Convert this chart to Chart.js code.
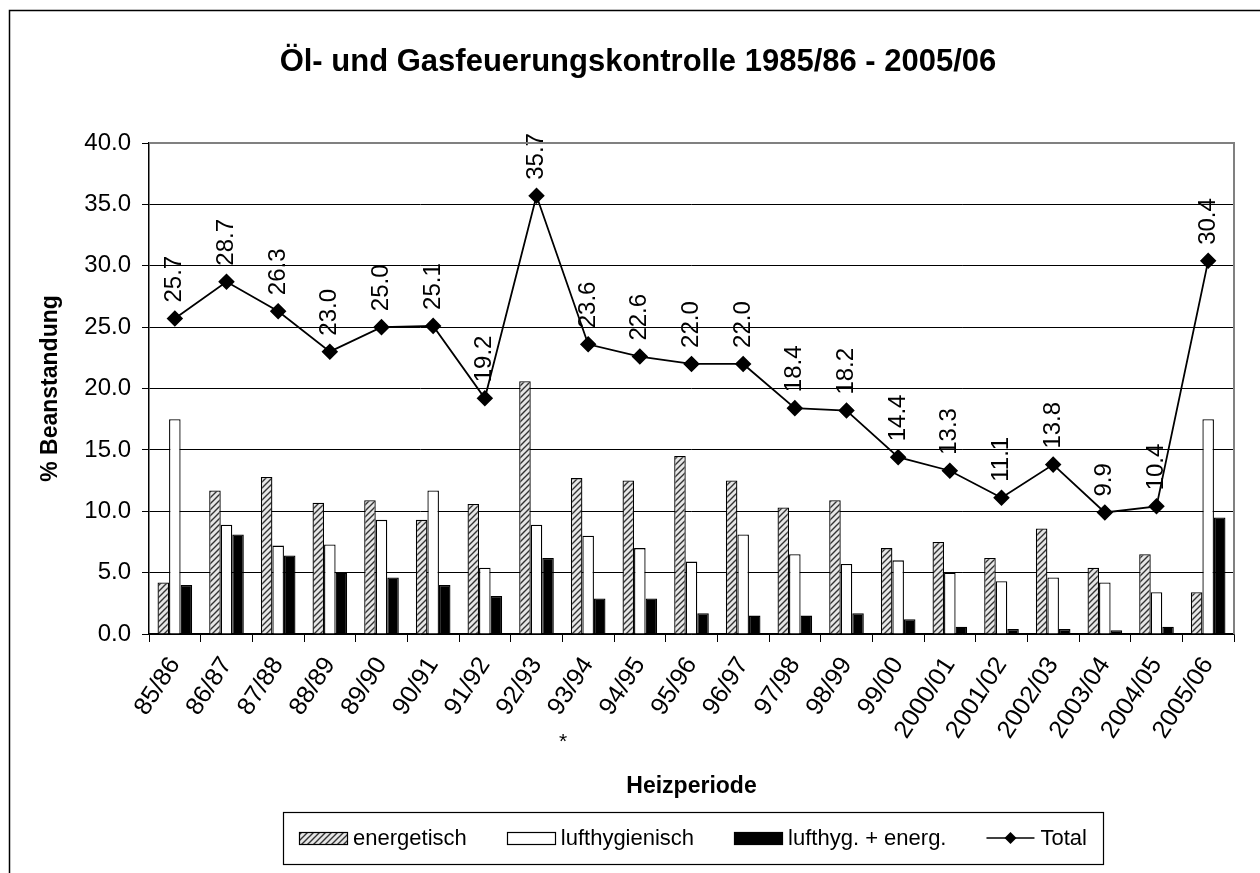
<!DOCTYPE html>
<html>
<head>
<meta charset="utf-8">
<script src="https://cdn.jsdelivr.net/npm/chart.js@4/dist/chart.umd.min.js"></script>
<style>
  html, body { margin: 0; padding: 0; background: #fff; }
  #wrap { width: 1260px; height: 873px; }
</style>
</head>
<body>
<div id="wrap"><canvas id="kontrolle" width="1260" height="873"></canvas></div>
<script>
// Heizperioden und Beanstandungen in %
const periods = ['85/86', '86/87', '87/88', '88/89', '89/90', '90/91', '91/92', '92/93', '93/94', '94/95',
    '95/96', '96/97', '97/98', '98/99', '99/00', '2000/01', '2001/02', '2002/03', '2003/04', '2004/05', '2005/06'];
const energetisch = [4.2, 11.7, 12.8, 10.7, 10.9, 9.3, 10.6, 20.6, 12.7, 12.5, 14.5, 12.5, 10.3, 10.9, 7.0, 7.5, 6.2, 8.6, 5.4, 6.5, 3.4];
const lufthygienisch = [17.5, 8.9, 7.2, 7.3, 9.3, 11.7, 5.4, 8.9, 8.0, 7.0, 5.9, 8.1, 6.5, 5.7, 6.0, 5.0, 4.3, 4.6, 4.2, 3.4, 17.5];
const beides = [4.0, 8.1, 6.4, 5.0, 4.6, 4.0, 3.1, 6.2, 2.9, 2.9, 1.7, 1.5, 1.5, 1.7, 1.2, 0.6, 0.4, 0.4, 0.3, 0.6, 9.5];
const total = [25.7, 28.7, 26.3, 23.0, 25.0, 25.1, 19.2, 35.7, 23.6, 22.6, 22.0, 22.0, 18.4, 18.2, 14.4, 13.3, 11.1, 13.8, 9.9, 10.4, 30.4];
const starIndex = 8; // Fussnote bei 93/94

const FONT = "'Liberation Sans', Arial, sans-serif";

function makeHatch() {
    const c = document.createElement('canvas');
    c.width = 6; c.height = 6;
    const g = c.getContext('2d');
    g.fillStyle = '#e6e6e6';
    g.fillRect(0, 0, 6, 6);
    g.strokeStyle = '#333';
    g.lineWidth = 1.4;
    g.beginPath();
    g.moveTo(0, 6); g.lineTo(6, 0);
    g.moveTo(-3, 3); g.lineTo(3, -3);
    g.moveTo(3, 9); g.lineTo(9, 3);
    g.stroke();
    return g.createPattern(c, 'repeat');
}
const hatch = makeHatch();

// frame, title, axis titles, footnote star
const decorations = {
    id: 'decorations',
    beforeDraw(chart) {
        const ctx = chart.ctx;
        ctx.save();
        ctx.fillStyle = '#fff';
        ctx.fillRect(0, 0, chart.width, chart.height);
        ctx.strokeStyle = '#000';
        ctx.lineWidth = 1.5;
        ctx.beginPath();
        ctx.moveTo(9.5, chart.height);
        ctx.lineTo(9.5, 10.5);
        ctx.lineTo(chart.width, 10.5);
        ctx.stroke();
        ctx.restore();
    },
    afterDraw(chart) {
        const ctx = chart.ctx;
        const a = chart.chartArea;
        const x = chart.scales.x;
        ctx.save();
        // plot area border
        ctx.strokeStyle = '#808080';
        ctx.lineWidth = 2;
        ctx.beginPath();
        ctx.moveTo(a.left, a.top);
        ctx.lineTo(a.right, a.top);
        ctx.lineTo(a.right, a.bottom);
        ctx.stroke();

        ctx.fillStyle = '#000';
        ctx.textAlign = 'center';
        ctx.textBaseline = 'middle';
        ctx.font = 'bold 31px ' + FONT;
        ctx.fillText('Öl- und Gasfeuerungskontrolle 1985/86 - 2005/06', 638, 62);

        ctx.font = 'bold 23px ' + FONT;
        ctx.fillText('Heizperiode', (a.left + a.right) / 2, 787);
        ctx.save();
        ctx.translate(51, (a.top + a.bottom) / 2);
        ctx.rotate(-Math.PI / 2);
        ctx.fillText('% Beanstandung', 0, 0);
        ctx.restore();

        ctx.font = '21px ' + FONT;
        ctx.fillText('*', x.getPixelForValue(starIndex) - 25, 742);
        ctx.restore();
    }
};

// rotated value labels above the Total points
const totalLabels = {
    id: 'totalLabels',
    afterDatasetsDraw(chart) {
        const ctx = chart.ctx;
        const meta = chart.getDatasetMeta(3);
        ctx.save();
        ctx.fillStyle = '#000';
        ctx.font = '24px ' + FONT;
        ctx.textAlign = 'left';
        ctx.textBaseline = 'middle';
        meta.data.forEach((pt, i) => {
            ctx.save();
            ctx.translate(pt.x, pt.y - 16);
            ctx.rotate(-Math.PI / 2);
            ctx.fillText(total[i].toFixed(1), 0, 0);
            ctx.restore();
        });
        ctx.restore();
    }
};

// boxed legend below the axis title
const boxLegend = {
    id: 'boxLegend',
    afterDraw(chart) {
        const ctx = chart.ctx;
        const sets = chart.data.datasets;
        const sw = 48, gap = 6, itemGap = 40, pad = 16;
        ctx.save();
        ctx.font = '22px ' + FONT;
        const widths = sets.map(ds => sw + gap + ctx.measureText(ds.label).width);
        const inner = widths.reduce((s, w) => s + w, 0) + itemGap * (sets.length - 1);
        const boxW = inner + pad * 2;
        const cx = 693, top = 812, bottom = 864;
        const left = cx - boxW / 2;
        ctx.strokeStyle = '#000';
        ctx.lineWidth = 1.2;
        ctx.strokeRect(Math.round(left) + 0.5, top + 0.5, Math.round(boxW), bottom - top);
        const cy = (top + bottom) / 2;
        let xPos = left + pad;
        sets.forEach((ds, i) => {
            if (ds.type === 'line') {
                ctx.strokeStyle = ds.borderColor;
                ctx.lineWidth = 1.5;
                ctx.beginPath();
                ctx.moveTo(xPos, cy);
                ctx.lineTo(xPos + sw, cy);
                ctx.stroke();
                ctx.fillStyle = ds.pointBackgroundColor;
                const mx = xPos + sw / 2, r = 6;
                ctx.beginPath();
                ctx.moveTo(mx, cy - r); ctx.lineTo(mx + r, cy);
                ctx.lineTo(mx, cy + r); ctx.lineTo(mx - r, cy);
                ctx.closePath();
                ctx.fill();
            } else {
                ctx.fillStyle = ds.backgroundColor;
                ctx.fillRect(xPos, cy - 6, sw, 12);
                ctx.strokeStyle = '#000';
                ctx.lineWidth = 1.2;
                ctx.strokeRect(Math.round(xPos) + 0.5, Math.round(cy - 6) + 0.5, sw, 12);
            }
            ctx.fillStyle = '#000';
            ctx.textAlign = 'left';
            ctx.textBaseline = 'middle';
            ctx.fillText(ds.label, xPos + sw + gap, cy + 1);
            xPos += widths[i] + itemGap;
        });
        ctx.restore();
    }
};

const ctx = document.getElementById('kontrolle').getContext('2d');
const chart = new Chart(ctx, {
    type: 'bar',
    data: {
        labels: periods,
        datasets: [
            {
                label: 'energetisch',
                data: energetisch,
                backgroundColor: hatch,
                borderColor: '#000',
                borderWidth: 1.3,
                order: 1
            },
            {
                label: 'lufthygienisch',
                data: lufthygienisch,
                backgroundColor: '#fff',
                borderColor: '#000',
                borderWidth: 1.3,
                order: 1
            },
            {
                label: 'lufthyg. + energ.',
                data: beides,
                backgroundColor: '#000',
                borderColor: '#000',
                borderWidth: 1.3,
                order: 1
            },
            {
                type: 'line',
                label: 'Total',
                data: total,
                borderColor: '#000',
                borderWidth: 1.8,
                pointStyle: 'rectRot',
                pointRadius: 7,
                pointBackgroundColor: '#000',
                pointBorderColor: '#000',
                tension: 0,
                fill: false,
                order: 0
            }
        ]
    },
    options: {
        responsive: false,
        animation: false,
        layout: { padding: { left: 0, right: 26, top: 143, bottom: 0 } },
        datasets: {
            bar: { categoryPercentage: 0.67, barPercentage: 1.0 }
        },
        plugins: {
            legend: { display: false },
            title: { display: false },
            tooltip: { enabled: false }
        },
        scales: {
            x: {
                offset: true,
                afterFit: scale => { scale.height = 239; },
                grid: {
                    offset: true,
                    drawOnChartArea: false,
                    color: '#000',
                    tickLength: 8
                },
                border: { color: '#000', width: 1.5 },
                ticks: {
                    color: '#000',
                    font: { family: FONT, size: 25 },
                    minRotation: 57,
                    maxRotation: 57,
                    autoSkip: false,
                    padding: 10
                }
            },
            y: {
                min: 0,
                max: 40,
                afterFit: scale => { scale.width = 149; },
                grid: {
                    color: '#000',
                    lineWidth: 1,
                    tickLength: 7
                },
                border: { color: '#000', width: 1.5 },
                ticks: {
                    stepSize: 5,
                    color: '#000',
                    font: { family: FONT, size: 24 },
                    padding: 11,
                    callback: v => v.toFixed(1)
                }
            }
        }
    },
    plugins: [decorations, totalLabels, boxLegend]
});
</script>
</body>
</html>
